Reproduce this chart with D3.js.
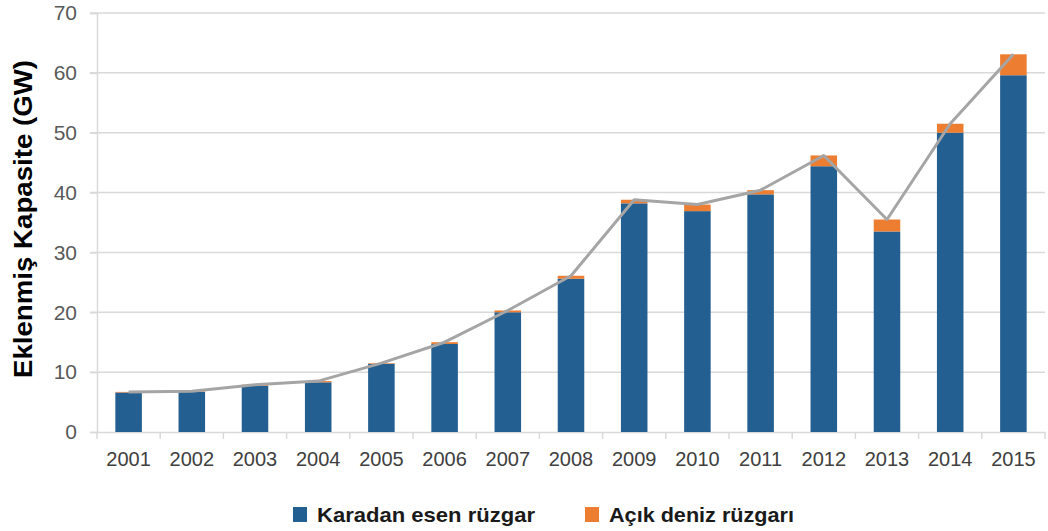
<!DOCTYPE html>
<html>
<head>
<meta charset="utf-8">
<script src="https://cdn.jsdelivr.net/npm/d3@7"></script>
<style>
  body { margin: 0; background: #fff; }
  svg { display: block; font-family: "Liberation Sans", Arial, sans-serif; }
</style>
</head>
<body>
<div id="view"></div>
<script>
const years = ["2001", "2002", "2003", "2004", "2005", "2006", "2007", "2008",
               "2009", "2010", "2011", "2012", "2013", "2014", "2015"];
const onshore = [6.6, 6.7, 7.7, 8.3, 11.4, 14.7, 20.0, 25.6, 38.2, 36.9, 39.7, 44.4, 33.5, 50.0, 59.6];
const offshore = [0.1, 0.1, 0.2, 0.2, 0.1, 0.3, 0.3, 0.5, 0.6, 1.1, 0.7, 1.8, 2.0, 1.5, 3.5];
const yTicks = [0, 10, 20, 30, 40, 50, 60, 70];
const seriesNames = ["Karadan esen rüzgar", "Açık deniz rüzgarı"];
const colors = ["#245f91", "#ed7d31"];

const width = 1048, height = 531;
const margin = {top: 13, right: 3, bottom: 99, left: 97};
const innerW = width - margin.left - margin.right;
const innerH = height - margin.top - margin.bottom;

const svg = d3.select("#view")
    .append("svg")
        .attr("width", width)
        .attr("height", height);

const g = svg.append("g")
    .attr("transform", `translate(${margin.left},${margin.top})`);

// scales
const x = d3.scaleBand().domain(years).range([0, innerW]).paddingInner(0.58).paddingOuter(0.29);
const y = d3.scaleLinear().domain([0, 70]).range([innerH, 0]);

// gridlines
g.append("g")
    .selectAll("line")
    .data(yTicks.filter(d => d > 0))
    .join("line")
        .attr("x1", -7)
        .attr("x2", innerW)
        .attr("y1", d => y(d))
        .attr("y2", d => y(d))
        .attr("stroke", "#d9d9d9")
        .attr("stroke-width", 1.5);

// Y axis
const yAxis = g.append("g")
    .call(d3.axisLeft(y).tickValues(yTicks).tickSize(7).tickPadding(13));
yAxis.select(".domain").attr("stroke", "#d9d9d9").attr("stroke-width", 1.5);
yAxis.selectAll(".tick line").attr("stroke", "#d9d9d9").attr("stroke-width", 1.5);
yAxis.selectAll("text")
    .attr("fill", "#595959")
    .style("font-size", "21px");

// X axis with ticks at category boundaries
const step = x.step();
const xAxis = g.append("g")
    .attr("transform", `translate(0,${innerH})`)
    .call(d3.axisBottom(x).tickSize(0).tickPadding(20));
xAxis.select(".domain").attr("stroke", "#d9d9d9").attr("stroke-width", 1.5);
xAxis.selectAll("text")
    .attr("fill", "#404040")
    .style("font-size", "20px");
xAxis.selectAll(".bound")
    .data(d3.range(years.length + 1))
    .join("line")
        .attr("class", "bound")
        .attr("x1", i => i * step)
        .attr("x2", i => i * step)
        .attr("y1", 0)
        .attr("y2", 7)
        .attr("stroke", "#d9d9d9")
        .attr("stroke-width", 1.5);

// stacked bars
const rows = years.map((yr, i) => ({year: yr, on: onshore[i], off: offshore[i]}));
const stacked = d3.stack().keys(["on", "off"])(rows);

g.append("g")
    .selectAll("g")
    .data(stacked)
    .join("g")
        .attr("fill", (d, i) => colors[i])
    .selectAll("rect")
    .data(d => d)
    .join("rect")
        .attr("x", d => x(d.data.year))
        .attr("y", d => y(d[1]))
        .attr("width", x.bandwidth())
        .attr("height", d => y(d[0]) - y(d[1]));

// total line
g.append("path")
    .datum(rows)
    .attr("fill", "none")
    .attr("stroke", "#a5a5a5")
    .attr("stroke-width", 3)
    .attr("stroke-linejoin", "round")
    .attr("d", d3.line()
        .x(d => x(d.year) + x.bandwidth() / 2)
        .y(d => y(d.on + d.off)));

// y axis title
svg.append("text")
    .attr("transform", `translate(32,219) rotate(-90)`)
    .attr("text-anchor", "middle")
    .attr("fill", "#000")
    .attr("textLength", 318)
    .attr("lengthAdjust", "spacingAndGlyphs")
    .style("font-size", "26px")
    .style("font-weight", "bold")
    .text("Eklenmiş Kapasite (GW)");

// legend
const legendX = [293, 585];
const legendW = [218, 185];
const legend = svg.append("g");
seriesNames.forEach((name, i) => {
    legend.append("rect")
        .attr("x", legendX[i])
        .attr("y", 507)
        .attr("width", 14)
        .attr("height", 15)
        .attr("fill", colors[i]);
    legend.append("text")
        .attr("x", legendX[i] + 24)
        .attr("y", 522)
        .attr("fill", "#1a1a1a")
        .attr("textLength", legendW[i])
        .attr("lengthAdjust", "spacingAndGlyphs")
        .style("font-size", "21px")
        .style("font-weight", "bold")
        .text(name);
});
</script>
</body>
</html>
